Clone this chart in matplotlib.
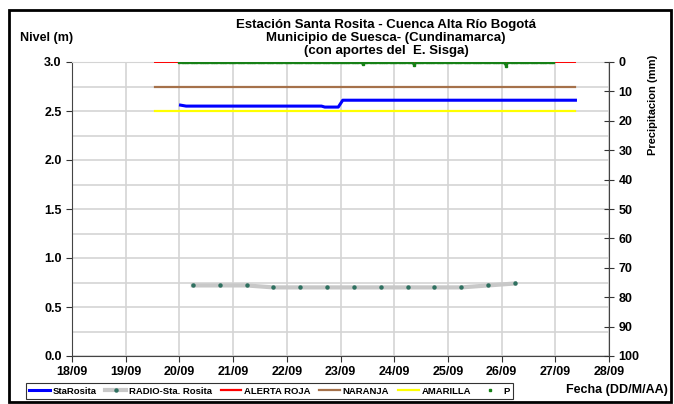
import numpy as np
import pandas as pd
import matplotlib
matplotlib.use("Agg")
import matplotlib.pyplot as plt
import matplotlib.dates as mdates
from matplotlib.lines import Line2D
from matplotlib.patches import Rectangle

plt.rcParams["font.family"] = ["Liberation Sans", "DejaVu Sans"]
plt.rcParams["font.weight"] = "bold"

# --- data --------------------------------------------------------------------
sta_times = ["2011-09-20 00:30", "2011-09-20 03:00", "2011-09-22 15:30",
             "2011-09-22 17:00", "2011-09-22 23:00", "2011-09-23 01:00",
             "2011-09-27 09:00"]
sta_level = [2.56, 2.55, 2.55, 2.54, 2.54, 2.61, 2.61]

radio_times = ["2011-09-20 06:00", "2011-09-20 18:00", "2011-09-21 06:00",
               "2011-09-21 18:00", "2011-09-22 06:00", "2011-09-22 18:00",
               "2011-09-23 06:00", "2011-09-23 18:00", "2011-09-24 06:00",
               "2011-09-24 18:00", "2011-09-25 06:00", "2011-09-25 18:00",
               "2011-09-26 06:00"]
radio_level = [0.72, 0.72, 0.72, 0.70, 0.70, 0.70, 0.70,
               0.70, 0.70, 0.70, 0.70, 0.72, 0.74]

alert_span = ["2011-09-19 13:00", "2011-09-27 09:00"]
alert_roja = 3.0
alert_naranja = 2.75
alert_amarilla = 2.5

# hourly rain gauge, 20/09 00h .. 26/09 23h; dry except these readings
p_start, p_end = "2011-09-20 00:00", "2011-09-26 23:00"
p_event_times = ["2011-09-23 10:00", "2011-09-24 09:00", "2011-09-26 02:00"]
p_event_mm = [0.6, 1.0, 1.2]

date_ticks = pd.date_range("2011-09-18", "2011-09-28", freq="D")

# --- figure --------------------------------------------------------------------
fig = plt.figure(figsize=(6.74, 4.04), dpi=100)
ax = fig.add_axes([72 / 674, 48 / 404, 537 / 674, 294 / 404])

sta_t = pd.to_datetime(sta_times)
radio_t = pd.to_datetime(radio_times)
span_t = pd.to_datetime(alert_span)
p_t = pd.date_range(p_start, p_end, freq="h")
p_mm = pd.Series(0.0, index=p_t)
p_mm[pd.to_datetime(p_event_times)] = p_event_mm

ax.plot(span_t, [alert_roja] * 2, color="#ff0000", lw=1.4, zorder=3)
ax.plot(span_t, [alert_naranja] * 2, color="#a5714a", lw=1.6, zorder=3)
ax.plot(span_t, [alert_amarilla] * 2, color="#ffff00", lw=1.6, zorder=3)
ax.plot(sta_t, sta_level, color="#0000ff", lw=2.2, zorder=4)
ax.plot(radio_t, radio_level, color="#c8c8c8", lw=3, marker="o", ms=2.2,
        mfc="#2f7060", mec="#2f7060", zorder=4)

ax.set_xlim(date_ticks[0], date_ticks[-1])
ax.set_ylim(0, 3.0)
ax.set_xticks(date_ticks)
ax.xaxis.set_major_formatter(mdates.DateFormatter("%d/%m"))
ax.set_yticks(np.arange(0, 3.01, 0.5))
ax.set_yticks(np.arange(0, 3.01, 0.25), minor=True)
ax.yaxis.set_major_formatter(plt.FormatStrFormatter("%.1f"))
ax.grid(True, which="both", color="#d4d4d4", lw=1.2)
ax.set_axisbelow(True)
ax.tick_params(axis="both", labelsize=9, colors="#333333", labelcolor="black",
               length=4)
ax.tick_params(axis="y", which="minor", length=0)
for lab in ax.get_xticklabels() + ax.get_yticklabels():
    lab.set_fontweight("bold")
for side in ("left", "bottom"):
    ax.spines[side].set_color("#444444")
ax.spines["top"].set_color("#d4d4d4")
ax.spines["right"].set_visible(False)

# precipitation on the right axis (inverted)
ax2 = ax.twinx()
ax2.plot(p_mm.index, p_mm.values, lw=1.8, marker="s", ms=1.8,
         color="#168016", zorder=5)
ax2.set_ylim(100, 0)
ax2.set_yticks(np.arange(0, 101, 10))
ax2.tick_params(axis="y", labelsize=9, direction="inout", length=7,
                colors="#333333", labelcolor="black")
for lab in ax2.get_yticklabels():
    lab.set_fontweight("bold")
for side in ("left", "top", "bottom"):
    ax2.spines[side].set_visible(False)
ax2.spines["right"].set_color("#444444")

# texts
fig.text(386 / 674, 1 - 38 / 404,
         "Estación Santa Rosita - Cuenca Alta Río Bogotá\n"
         "Municipio de Suesca- (Cundinamarca)\n"
         "(con aportes del  E. Sisga)",
         ha="center", va="center", fontsize=9.5, fontweight="bold",
         linespacing=1.12)
fig.text(20 / 674, 1 - 38 / 404, "Nivel (m)", ha="left", va="center",
         fontsize=9, fontweight="bold")
fig.text(653 / 674, 1 - 105 / 404, "Precipitacion (mm)", rotation=90,
         ha="center", va="center", fontsize=8, fontweight="bold")
fig.text(668 / 674, 1 - 390 / 404, "Fecha (DD/M/AA)", ha="right",
         va="center", fontsize=9, fontweight="bold")

handles = [
    Line2D([], [], color="#0000ff", lw=2.2),
    Line2D([], [], color="#c8c8c8", lw=3, marker="o", ms=2.2,
           mfc="#2f7060", mec="#2f7060"),
    Line2D([], [], color="#ff0000", lw=1.6),
    Line2D([], [], color="#a5714a", lw=1.6),
    Line2D([], [], color="#ffff00", lw=1.6),
    Line2D([], [], ls="none", marker="s", ms=1.8, color="#168016"),
]
labels = ["StaRosita", "RADIO-Sta. Rosita", "ALERTA ROJA", "NARANJA",
          "AMARILLA", "P"]
leg = fig.legend(handles, labels, loc="center left",
                 bbox_to_anchor=(26 / 674, 1 - 391 / 404), ncol=6,
                 prop={"size": 6.8, "weight": "bold"}, frameon=True,
                 fancybox=False, edgecolor="black", handlelength=2.2,
                 handletextpad=0.3, columnspacing=0.9, borderpad=0.35,
                 borderaxespad=0)
leg.get_frame().set_linewidth(0.8)

fig.patches.append(Rectangle((0.013, 0.004), 0.983, 0.971,
                             transform=fig.transFigure, fill=False,
                             lw=2, ec="black"))

fig.savefig("out.png", dpi=100)
